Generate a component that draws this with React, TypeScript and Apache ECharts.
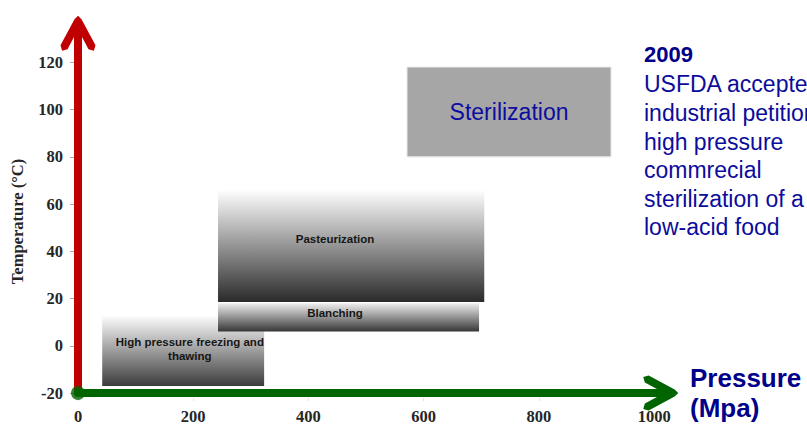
import React, { useEffect, useRef } from 'react';
import * as echarts from 'echarts';

// ---- data ----
const processLabels = ['High pressure freezing and\nthawing', 'Blanching', 'Pasteurization', 'Sterilization'];
const pressureFrom = [42, 243, 243, 571];
const pressureTo = [323, 696, 705, 925];
const tempFrom = [-17, 6, 18.5, 80];
const tempTo = [13, 18, 66, 118];
const labelPressure = [194, 446, 446, 748];
const labelTemp = [-1.5, 14, 45, 99];
const xTicks = [0, 200, 400, 600, 800, 1000];
const yTicks = [-20, 0, 20, 40, 60, 80, 100, 120];
const origin = [0, -20];
const noteTitle = '2009';
const noteLines = ['USFDA accepted', 'industrial petition', 'high pressure', 'commrecial', 'sterilization of a', 'low-acid food'];
const xName = 'Pressure\n(Mpa)';
const yName = 'Temperature (°C)';

// ---- styles ----
const CHEVRON = 'path://M18,-1.5 L21.5,2.1 L35.5,28.1 L33.9,33.5 L28.5,31.9 L22,19.8 L22,35 L14,35 L14,19.8 L7.5,31.9 L2.1,33.5 L0.5,28.1 L14.5,2.1 Z';
const grad = (a: string, b: string) =>
  new echarts.graphic.LinearGradient(0, 0, 0, 1, [
    { offset: 0, color: a },
    { offset: 1, color: b },
  ]);
const fills = [grad('#ffffff', '#3c3c3c'), grad('#eeeeee', '#363636'), grad('#ffffff', '#2a2a2a'), '#a6a6a6'];
const strokes = ['none', 'none', 'none', '#e6e6e6'];
const smallLabel = { font: 'bold 11.5px "Liberation Sans", Arial, sans-serif', fill: '#161616', lineHeight: 14 };
const bigLabel = { font: '23px "Liberation Sans", Arial, sans-serif', fill: '#0c0ca0' };
const labelStyles = [smallLabel, smallLabel, smallLabel, bigLabel];
const serif = '"Liberation Serif", "Times New Roman", serif';
const sans = '"Liberation Sans", Arial, sans-serif';

export default function App() {
  const ref = useRef<HTMLDivElement>(null);
  useEffect(() => {
    if (!ref.current) return;
    const chart = echarts.init(ref.current, null, { renderer: 'svg' });
    const data = processLabels.map((_, i) => [
      pressureFrom[i], pressureTo[i], tempFrom[i], tempTo[i], labelPressure[i], labelTemp[i],
    ]);
    const xMin = 0, xMax = 1010, yMin = -20, yMax = 132;
    const noteGraphics: any[] = [
      {
        type: 'text', x: 644, y: 54.6,
        style: { text: noteTitle, font: `bold 22px ${sans}`, fill: '#000088', verticalAlign: 'middle' },
      },
      ...noteLines.map((t, i) => ({
        type: 'text', x: 644, y: 84.4 + i * 28.6,
        style: { text: t, font: `23px ${sans}`, fill: '#0c0c9c', verticalAlign: 'middle' },
      })),
    ];
    chart.setOption({
      animation: false,
      grid: { left: 78, right: 147, top: 34, bottom: 36, containLabel: false },
      xAxis: [
        {
          type: 'value', min: xMin, max: xMax, position: 'bottom',
          axisLine: {
            show: true, onZero: false,
            lineStyle: { color: '#006400', width: 8 },
            symbol: ['none', CHEVRON], symbolSize: [35, 36.5],
          },
          axisTick: { show: false }, axisLabel: { show: false }, splitLine: { show: false },
          name: xName, nameLocation: 'end', nameGap: 30,
          nameTextStyle: { fontFamily: sans, fontWeight: 'bold', fontSize: 26, color: '#00008a', lineHeight: 30, padding: [9, 0, 0, 0] },
        },
        {
          type: 'value', min: xMin, max: xMax, position: 'bottom', offset: 5,
          axisLine: { show: false, onZero: false },
          axisTick: { show: true, length: 3, lineStyle: { color: '#e2e2e2' }, customValues: xTicks },
          axisLabel: {
            customValues: xTicks, margin: 10, fontFamily: serif, fontWeight: 'bold', fontSize: 16.5, color: '#262626',
            formatter: (v: number) => String(v),
          },
          splitLine: { show: false },
        },
      ],
      yAxis: [
        {
          type: 'value', min: yMin, max: yMax, position: 'left',
          axisLine: {
            show: true, onZero: false,
            lineStyle: { color: '#c00000', width: 8 },
            symbol: ['none', CHEVRON], symbolSize: [35, 36.5],
          },
          axisTick: { show: false }, axisLabel: { show: false }, splitLine: { show: false },
        },
        {
          type: 'value', min: yMin, max: yMax, position: 'left', offset: 4,
          axisLine: { show: false, onZero: false },
          axisTick: { show: true, length: 4, lineStyle: { color: '#a8a8a8' }, customValues: yTicks },
          axisLabel: {
            customValues: yTicks, margin: 11, fontFamily: serif, fontWeight: 'bold', fontSize: 16.5, color: '#262626',
            formatter: (v: number) => String(v),
          },
          splitLine: { show: false },
          name: yName, nameLocation: 'middle', nameGap: 48, nameRotate: 90,
          nameTextStyle: { fontFamily: serif, fontWeight: 'bold', fontSize: 16.5, color: '#262626', padding: [0, 16, 0, 0] },
        },
      ],
      series: [
        {
          type: 'custom',
          xAxisIndex: 0, yAxisIndex: 0,
          clip: false,
          encode: { x: [0, 1, 4], y: [2, 3, 5] },
          data,
          renderItem: (params: any, api: any) => {
            const i = params.dataIndex;
            const tl = api.coord([api.value(0), api.value(3)]);
            const br = api.coord([api.value(1), api.value(2)]);
            const lp = api.coord([api.value(4), api.value(5)]);
            return {
              type: 'group',
              children: [
                {
                  type: 'rect',
                  shape: { x: tl[0], y: tl[1], width: br[0] - tl[0], height: br[1] - tl[1] },
                  style: { fill: fills[i], stroke: strokes[i], lineWidth: 1 },
                },
                {
                  type: 'text', x: lp[0], y: lp[1],
                  style: { text: processLabels[i], align: 'center', verticalAlign: 'middle', ...labelStyles[i] },
                },
              ],
            };
          },
        },
        {
          type: 'scatter',
          xAxisIndex: 0, yAxisIndex: 0,
          data: [origin],
          symbol: 'circle', symbolSize: 14,
          itemStyle: { color: '#006400' },
          clip: false, silent: true, z: 5,
        },
      ],
      graphic: noteGraphics,
    });
    return () => chart.dispose();
  }, []);
  return <div ref={ref} style={{ position: 'absolute', left: 0, top: 0, width: 807, height: 429, background: '#fff' }} />;
}
